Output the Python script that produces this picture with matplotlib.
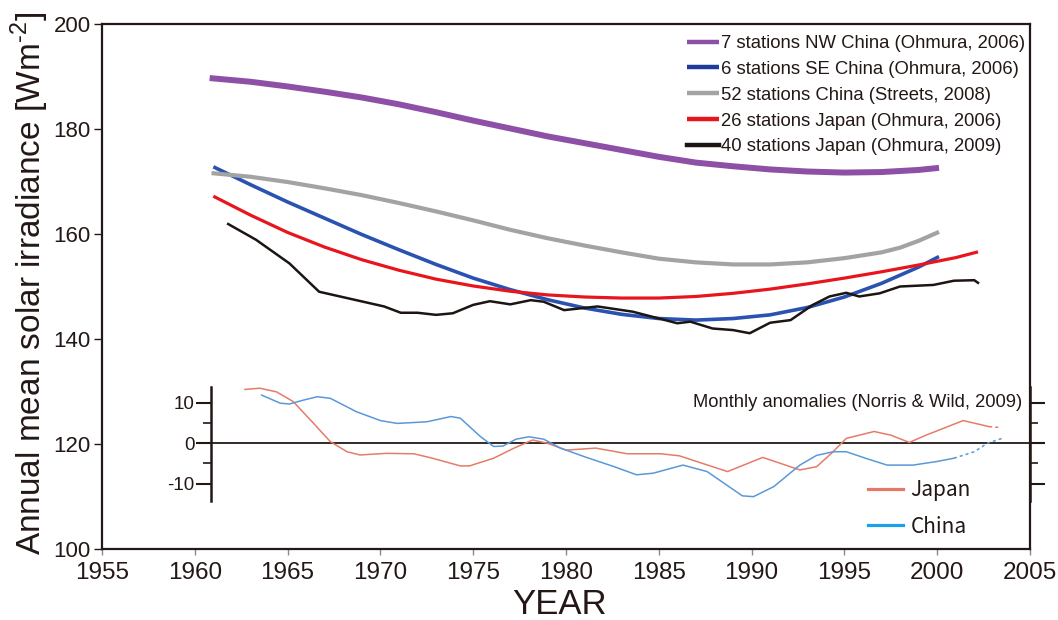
import matplotlib
matplotlib.use("Agg")
import matplotlib.pyplot as plt
from matplotlib.lines import Line2D

plt.rcParams['font.family'] = ['Liberation Sans', 'DejaVu Sans']
plt.rcParams['axes.unicode_minus'] = False

INK = '#231815'

# annual mean solar irradiance (Wm-2)
nw_china_years = [1960.8, 1963, 1965, 1967, 1969, 1971, 1973, 1975, 1977, 1979, 1981,
                  1983, 1985, 1987, 1989, 1991, 1993, 1995, 1997, 1999, 2000.1]
nw_china_vals = [189.7, 189.0, 188.1, 187.1, 186.0, 184.7, 183.2, 181.6, 180.1, 178.6, 177.3,
                 176.0, 174.7, 173.6, 172.9, 172.3, 171.9, 171.7, 171.8, 172.2, 172.6]

se_china_years = [1961.0, 1963, 1965, 1967, 1969, 1971, 1973, 1975, 1977, 1979, 1981,
                  1983, 1985, 1987, 1989, 1991, 1993, 1995, 1997, 1999, 2000.1]
se_china_vals = [172.8, 169.4, 166.1, 163.0, 159.9, 157.0, 154.2, 151.6, 149.4, 147.5, 145.9,
                 144.7, 143.9, 143.6, 143.9, 144.6, 146.0, 148.0, 150.6, 153.7, 155.7]

china_years = [1960.9, 1963, 1965, 1967, 1969, 1971, 1973, 1975, 1977, 1979, 1981,
               1983, 1985, 1987, 1989, 1991, 1993, 1995, 1997, 1998, 1999, 2000.1]
china_vals = [171.6, 170.9, 169.9, 168.7, 167.4, 165.9, 164.3, 162.6, 160.8, 159.2, 157.8,
              156.5, 155.3, 154.6, 154.2, 154.2, 154.6, 155.4, 156.5, 157.4, 158.7, 160.4]

japan06_years = [1961.0, 1963, 1965, 1967, 1969, 1971, 1973, 1975, 1977, 1979, 1981,
                 1983, 1985, 1987, 1989, 1991, 1993, 1995, 1997, 1999, 2001, 2002.2]
japan06_vals = [167.2, 163.6, 160.3, 157.5, 155.1, 153.1, 151.4, 150.1, 149.1, 148.4, 148.0,
                147.8, 147.8, 148.1, 148.7, 149.5, 150.5, 151.6, 152.8, 154.1, 155.5, 156.6]

japan09_years = [1961.8, 1963.3, 1965.1, 1966.7, 1968.7, 1970.2, 1971.1, 1972.0, 1973.0, 1973.9,
                 1975.0, 1975.9, 1977.0, 1978.1, 1978.8, 1979.9, 1981.7, 1983.6, 1986.0, 1986.7,
                 1987.9, 1989.0, 1989.9, 1991.0, 1992.1, 1993.3, 1994.2, 1995.1, 1995.8, 1996.9,
                 1998.0, 1999.8, 2000.9, 2002.0, 2002.2]
japan09_vals = [161.9, 158.9, 154.4, 149.0, 147.4, 146.2, 145.0, 145.0, 144.6, 144.9,
                146.5, 147.2, 146.6, 147.4, 147.1, 145.5, 146.2, 145.2, 143.0, 143.3,
                142.0, 141.7, 141.1, 143.1, 143.6, 146.5, 148.1, 148.8, 148.1, 148.7,
                150.0, 150.3, 151.1, 151.2, 150.7]

series_labels = ['7 stations NW China (Ohmura, 2006)',
                 '6 stations SE China (Ohmura, 2006)',
                 '52 stations China (Streets, 2008)',
                 '26 stations Japan (Ohmura, 2006)',
                 '40 stations Japan (Ohmura, 2009)']

# monthly anomalies (Norris & Wild, 2009), Wm-2
anom_jp_years = [1962.7, 1963.5, 1964.4, 1965.3, 1966.4, 1967.3, 1968.2, 1968.9, 1970.3, 1971.8,
                 1972.8, 1974.3, 1974.8, 1976.1, 1977.2, 1978.2, 1979.0, 1980.0, 1981.6, 1983.3,
                 1985.1, 1986.1, 1987.5, 1988.7, 1990.6, 1992.6, 1993.5, 1994.3, 1995.1, 1996.6,
                 1997.5, 1998.5, 1999.4, 2001.4, 2002.8, 2003.4]
anom_jp_vals = [13.3, 13.6, 12.7, 10.3, 4.9, 0.4, -2.1, -2.9, -2.5, -2.6,
                -3.7, -5.6, -5.6, -3.7, -1.2, 0.8, 0.0, -1.7, -1.2, -2.6,
                -2.6, -3.1, -5.2, -7.0, -3.5, -6.6, -5.8, -2.5, 1.2, 2.9,
                2.0, 0.2, 2.0, 5.6, 4.1, 3.9]
anom_jp_dash_from = 2002.8

anom_cn_years = [1963.6, 1964.6, 1965.1, 1965.8, 1966.6, 1967.3, 1968.7, 1970.0, 1970.9, 1972.5,
                 1973.8, 1974.3, 1975.4, 1976.1, 1976.6, 1977.3, 1978.0, 1978.8, 1979.7, 1981.1,
                 1982.6, 1983.8, 1984.7, 1986.3, 1987.6, 1989.5, 1990.1, 1991.2, 1992.6, 1993.5,
                 1994.4, 1995.1, 1996.2, 1997.3, 1998.7, 2000.0, 2000.9, 2002.0, 2002.7, 2003.5]
anom_cn_vals = [11.9, 9.9, 9.7, 10.6, 11.5, 11.1, 7.8, 5.6, 4.9, 5.3,
                6.6, 6.2, 1.6, -0.8, -0.7, 1.0, 1.6, 1.0, -1.2, -3.5,
                -5.8, -7.8, -7.4, -5.4, -7.0, -13.0, -13.2, -10.7, -5.4, -3.0,
                -2.1, -2.1, -3.8, -5.4, -5.4, -4.5, -3.7, -2.1, 0.0, 1.2]
anom_cn_dash_from = 2000.9


def split_at(years, vals, cut):
    k = max(i for i, y in enumerate(years) if y <= cut)
    return (years[:k + 1], vals[:k + 1]), (years[k:], vals[k:])


fig = plt.figure(figsize=(10.58, 6.2), dpi=100)
ax = fig.add_axes([0.0964, 0.1145, 0.8771, 0.8468])

lines = []
lines += ax.plot(nw_china_years, nw_china_vals, color='#8E4FA6', lw=4.3,
                 solid_capstyle='butt', solid_joinstyle='round')
lines += ax.plot(se_china_years, se_china_vals, color='#2A52B0', lw=2.6,
                 solid_capstyle='butt', solid_joinstyle='round')
lines += ax.plot(china_years, china_vals, color='#A3A3A3', lw=3.0,
                 solid_capstyle='butt', solid_joinstyle='round')
lines += ax.plot(japan06_years, japan06_vals, color='#E8161C', lw=2.3,
                 solid_capstyle='butt', solid_joinstyle='round')
lines += ax.plot(japan09_years, japan09_vals, color='#1C1512', lw=1.8,
                 solid_joinstyle='round')

ax.set_xlim(1955, 2005)
ax.set_ylim(100, 200)
ax.set_xticks(range(1955, 2006, 5))
ax.set_yticks(range(100, 201, 20))
for sp in ax.spines.values():
    sp.set_linewidth(1.6)
    sp.set_color(INK)
ax.tick_params(axis='y', direction='out', length=6, width=1, labelsize=16, pad=2,
               colors=INK)
ax.tick_params(axis='x', direction='out', length=4, width=1, color='#8a8a8a',
               labelsize=17.5, pad=5, labelcolor=INK)

leg = ax.legend(lines, series_labels, loc='upper right',
                bbox_to_anchor=(1 - 5 / 928, 1 - 11 / 525), frameon=False,
                fontsize=13.3, handlelength=1.7, handletextpad=0.12,
                labelspacing=0.48, borderpad=0, borderaxespad=0)
leg_colors = ['#8E4FA6', '#1F3C9A', '#A3A3A3', '#E8161C', '#1C1512']
for h, c in zip(leg.get_lines(), leg_colors):
    h.set_linewidth(3.2)
    h.set_color(c)
for t in leg.get_texts():
    t.set_color(INK)

fig.text(30 / 1058, 0.542, 'Annual mean solar irradiance [Wm$^{\\mathregular{\u20102}}$]',
         rotation=90, ha='center', va='center', fontsize=24, color=INK)
fig.text(560 / 1058, 1 - 604 / 620, 'YEAR', ha='center', va='center',
         fontsize=25, color=INK)

# inset with the monthly anomalies
ax_in = fig.add_axes([211 / 1058, 1 - 500.7 / 620, 819 / 1058, 113.7 / 620])
ax_in.patch.set_alpha(0)
ax_in.set_xlim(1960.87, 2005)
ax_in.set_ylim(-14.2, 13.9)
ax_in.spines['top'].set_visible(False)
ax_in.spines['bottom'].set_visible(False)
for s in ('left', 'right'):
    ax_in.spines[s].set_linewidth(1.8)
    ax_in.spines[s].set_color(INK)
ax_in.set_xticks([])
ax_in.set_yticks([-10, 0, 10])
ax_in.set_yticks([-5, 5], minor=True)
ax_in.tick_params(axis='y', which='major', direction='out', length=11, width=1.5,
                  left=True, right=True, labelsize=13.5, pad=1, colors=INK)
ax_in.tick_params(axis='y', which='minor', direction='out', length=6, width=1.2,
                  left=True, right=True, colors=INK)
ax_in.axhline(0, xmin=0, xmax=1.016, color=INK, lw=1.3, clip_on=False)

jp_color = '#E57C69'
cn_color = '#5B98D8'
(jx, jy), (jdx, jdy) = split_at(anom_jp_years, anom_jp_vals, anom_jp_dash_from)
ax_in.plot(jx, jy, color=jp_color, lw=1.1)
ax_in.plot(jdx, jdy, color=jp_color, lw=1.1, ls=(0, (2, 2)))
(cx, cy), (cdx, cdy) = split_at(anom_cn_years, anom_cn_vals, anom_cn_dash_from)
ax_in.plot(cx, cy, color=cn_color, lw=1.1)
ax_in.plot(cdx, cdy, color=cn_color, lw=1.1, ls=(0, (2, 2)))

ax_in.text(2004.6, 10, 'Monthly anomalies (Norris & Wild, 2009)', ha='right',
           va='center', fontsize=13.2, color=INK)

anom_handles = [Line2D([], [], color='#E27A66', lw=2.3),
                Line2D([], [], color='#1CA0E6', lw=2.3)]
leg2 = ax_in.legend(anom_handles, ['Japan', 'China'], loc='upper left',
                    bbox_to_anchor=(868 / 1058, 1 - 479 / 620),
                    bbox_transform=fig.transFigure, frameon=False,
                    prop={'family': ['Noto Sans CJK JP', 'DejaVu Sans'], 'size': 15},
                    handlelength=1.68, handletextpad=0.35, labelspacing=0.7,
                    borderpad=0, borderaxespad=0)
for t in leg2.get_texts():
    t.set_color(INK)

fig.savefig('out.png', dpi=100)
